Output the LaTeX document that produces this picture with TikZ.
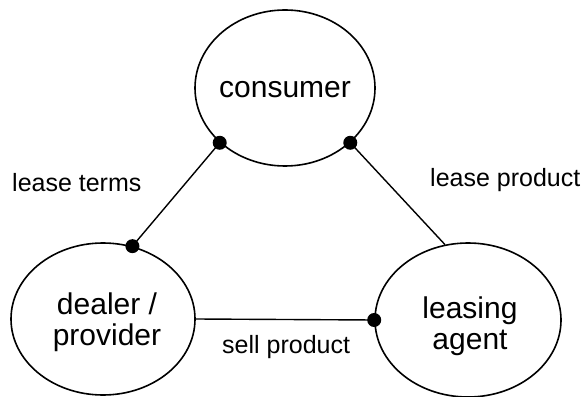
\documentclass[tikz,border=0pt]{standalone}
\usepackage{fontspec}
\setmainfont{Liberation Sans}
\usetikzlibrary{shapes.geometric}
\begin{document}
\begin{tikzpicture}[x=1pt,y=1pt,
  ent/.style={draw, line width=1.6pt, ellipse, inner sep=0pt},
  enttext/.style={font=\fontsize{30}{31}\selectfont, align=center, inner sep=0pt},
  lbl/.style={font=\fontsize{25}{28}\selectfont, inner sep=0pt, anchor=base west},
  conn/.style={line width=1.4pt},
  dotmark/.style={fill=black}]
\useasboundingbox (0,0) rectangle (585,396);
\node[ent, minimum width=180pt, minimum height=156pt] (consumer) at (285,308) {};
\node[ent, minimum width=184pt, minimum height=152pt] (dealer) at (103,77) {};
\node[ent, minimum width=186pt, minimum height=154pt] (leasing) at (468,76) {};
\node[enttext] (consumertxt) at (285,306) {consumer};
\node[enttext] (dealertxt) at (107,74) {dealer /\\provider};
\node[enttext] (leasingtxt) at (470,70) {leasing\\agent};
\draw[conn] (consumer.220) -- (dealer.68);
\draw[conn] (consumer.320) -- (leasing.107);
\draw[conn] (dealer.0) -- (leasing.180);
\fill[dotmark] (consumer.220) circle (7pt);
\fill[dotmark] (consumer.320) circle (7pt);
\fill[dotmark] (dealer.68) circle (7pt);
\fill[dotmark] (leasing.180) circle (7pt);
\node[lbl] (leaseterms) at (12,204) {lease terms};
\node[lbl] (leaseproduct) at (430,209) {lease product};
\node[lbl] (sellproduct) at (222,43) {sell product};
\end{tikzpicture}
\end{document}
